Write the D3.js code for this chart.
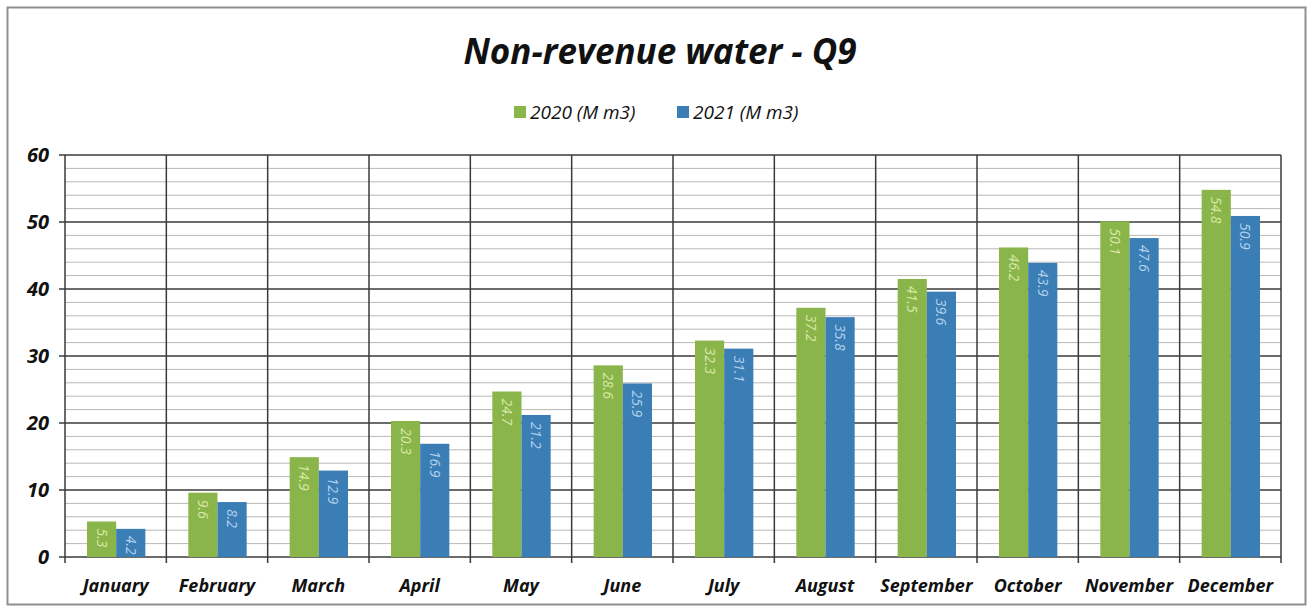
<!DOCTYPE html>
<html>
<head>
<meta charset="utf-8">
<script src="https://cdn.jsdelivr.net/npm/d3@7"></script>
<style>
  body { margin: 0; background: #fff; }
  text { font-family: "Open Sans", "Liberation Sans", sans-serif; }
</style>
</head>
<body>
<div id="chart"></div>
<script>
// data
var months = ["January", "February", "March", "April", "May", "June", "July",
  "August", "September", "October", "November", "December"];
var series = ["2020 (M m3)", "2021 (M m3)"];
var values2020 = [5.3, 9.6, 14.9, 20.3, 24.7, 28.6, 32.3, 37.2, 41.5, 46.2, 50.1, 54.8];
var values2021 = [4.2, 8.2, 12.9, 16.9, 21.2, 25.9, 31.1, 35.8, 39.6, 43.9, 47.6, 50.9];
var yTicks = [0, 10, 20, 30, 40, 50, 60];

var colors = ["#8ab54a", "#3b7db5"];
var labelColors = ["#dbe9a8", "#b4d3ee"];

var svgWidth = 1312;
var svgHeight = 609;

var margin = { top: 155, right: 31, bottom: 52, left: 65 };
var chartWidth = svgWidth - margin.left - margin.right;
var chartHeight = svgHeight - margin.top - margin.bottom;

var svg = d3.select("#chart")
  .append("svg")
  .attr("width", svgWidth)
  .attr("height", svgHeight);

// outer frame
svg.append("rect")
  .attr("x", 7.5).attr("y", 7.5)
  .attr("width", 1298).attr("height", 597)
  .attr("fill", "none")
  .attr("stroke", "#8f8f8f")
  .attr("stroke-width", 2);

// title
svg.append("text")
  .attr("x", 660).attr("y", 64)
  .attr("text-anchor", "middle")
  .style("font-size", "35px")
  .style("font-weight", "bold")
  .style("font-style", "italic")
  .attr("fill", "#111")
  .text("Non-revenue water - Q9");

// legend
var legendX = [514, 677];
series.forEach(function(s, i) {
  svg.append("rect")
    .attr("x", legendX[i]).attr("y", 106)
    .attr("width", 12).attr("height", 12)
    .attr("fill", colors[i]);
  svg.append("text")
    .attr("x", legendX[i] + 16).attr("y", 119)
    .style("font-size", "19px")
    .style("font-style", "italic")
    .attr("fill", "#111")
    .text(s);
});

var chartGroup = svg.append("g")
  .attr("transform", `translate(${margin.left}, ${margin.top})`);

var xScale = d3.scaleBand()
  .domain(months)
  .range([0, chartWidth])
  .padding(0);

var xInner = d3.scaleBand()
  .domain([0, 1])
  .range([22, xScale.bandwidth() - 21])
  .padding(0);

var yScale = d3.scaleLinear()
  .domain([0, 60])
  .range([chartHeight, 0]);

// minor gridlines every 2
chartGroup.append("g")
  .selectAll("line")
  .data(d3.range(0, 61, 2).filter(d => d % 10 !== 0))
  .enter()
  .append("line")
  .attr("x1", 0).attr("x2", chartWidth)
  .attr("y1", d => yScale(d)).attr("y2", d => yScale(d))
  .attr("stroke", "#b8b8b8")
  .attr("stroke-width", 1);

// major gridlines
chartGroup.append("g")
  .selectAll("line")
  .data(yTicks)
  .enter()
  .append("line")
  .attr("x1", -6).attr("x2", chartWidth)
  .attr("y1", d => yScale(d)).attr("y2", d => yScale(d))
  .attr("stroke", "#3a3a3a")
  .attr("stroke-width", 1.5);

// vertical category separators
chartGroup.append("g")
  .selectAll("line")
  .data(months.concat(["end"]))
  .enter()
  .append("line")
  .attr("x1", (d, i) => i * xScale.step())
  .attr("x2", (d, i) => i * xScale.step())
  .attr("y1", 0).attr("y2", chartHeight + 6)
  .attr("stroke", "#3a3a3a")
  .attr("stroke-width", 1.5);

// bars
var groups = chartGroup.selectAll(".month")
  .data(months)
  .enter()
  .append("g")
  .attr("class", "month")
  .attr("transform", d => `translate(${xScale(d)}, 0)`);

var allValues = [values2020, values2021];

groups.selectAll("rect")
  .data((d, i) => [0, 1].map(k => ({ k: k, v: allValues[k][i] })))
  .enter()
  .append("rect")
  .attr("x", d => xInner(d.k))
  .attr("y", d => yScale(d.v))
  .attr("width", xInner.bandwidth())
  .attr("height", d => chartHeight - yScale(d.v))
  .attr("fill", d => colors[d.k]);

// rotated value labels inside the bars
groups.selectAll("text")
  .data((d, i) => [0, 1].map(k => ({ k: k, v: allValues[k][i] })))
  .enter()
  .append("text")
  .attr("transform", d => `translate(${xInner(d.k) + xInner.bandwidth() / 2 - 5}, ${yScale(d.v) + 7}) rotate(90)`)
  .style("font-size", "14px")
  .style("font-style", "italic")
  .attr("fill", d => labelColors[d.k])
  .text(d => d.v.toFixed(1));

// y axis labels
chartGroup.append("g")
  .selectAll("text")
  .data(yTicks)
  .enter()
  .append("text")
  .attr("x", -16)
  .attr("y", d => yScale(d) + 7)
  .attr("text-anchor", "end")
  .style("font-size", "20px")
  .style("font-weight", "bold")
  .style("font-style", "italic")
  .attr("fill", "#111")
  .text(d => d);

// x axis labels
chartGroup.append("g")
  .selectAll("text")
  .data(months)
  .enter()
  .append("text")
  .attr("x", d => xScale(d) + xScale.bandwidth() / 2)
  .attr("y", chartHeight + 35)
  .attr("text-anchor", "middle")
  .style("font-size", "18px")
  .style("font-weight", "bold")
  .style("font-style", "italic")
  .attr("fill", "#111")
  .text(d => d);
</script>
</body>
</html>
